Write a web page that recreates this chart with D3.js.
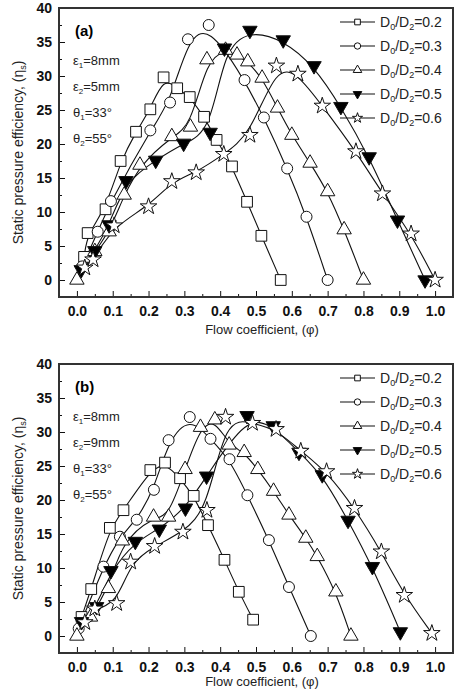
<!DOCTYPE html>
<html lang="en">
  <head>
    <meta charset="UTF-8" />
    <title>Static pressure efficiency</title>
    <script src="https://d3js.org/d3.v7.min.js"></script>
    <style>
      body { margin: 0; background: #fff; }
      svg { display: block; font-family: "Liberation Sans", Arial, sans-serif; }
      .tick text { font-weight: bold; font-size: 14px; fill: #111; }
      .tick line { stroke: #111; }
    </style>
  </head>
  <body>
    <svg id="canvas"></svg>
  </body>
  <script>
    // tick values
    let xTicks = [0.0, 0.1, 0.2, 0.3, 0.4, 0.5, 0.6, 0.7, 0.8, 0.9, 1.0];
    let xMinor = [-0.05, 0.05, 0.15, 0.25, 0.35, 0.45, 0.55, 0.65, 0.75, 0.85, 0.95, 1.05];
    let yTicks = [0, 5, 10, 15, 20, 25, 30, 35, 40];
    let yMinor = [-2.5, 2.5, 7.5, 12.5, 17.5, 22.5, 27.5, 32.5, 37.5];

    let ratios = ["0.2", "0.3", "0.4", "0.5", "0.6"];

    // panel (a): e2 = 5mm
    let a02 = [[0.02,3.4],[0.03,6.9],[0.08,10.4],[0.122,17.5],[0.165,21.8],[0.205,25.1],[0.242,29.8],[0.28,28.2],[0.315,26.9],[0.355,24.0],[0.39,20.6],[0.433,16.7],[0.475,11.5],[0.515,6.5],[0.569,0]];
    let a03 = [[0.015,2.0],[0.058,7.1],[0.095,11.6],[0.205,22.0],[0.26,26.1],[0.31,35.4],[0.368,37.5],[0.468,29.4],[0.522,23.9],[0.587,16.4],[0.641,9.3],[0.70,0]];
    let a04 = [[0,0],[0.05,4.2],[0.09,7.1],[0.132,12.5],[0.176,16.9],[0.265,21.1],[0.317,22.5],[0.363,32.4],[0.415,33.8],[0.447,33.1],[0.477,32.1],[0.517,29.7],[0.56,25.3],[0.60,21.3],[0.651,17.2],[0.70,13.0],[0.746,7.4],[0.80,0]];
    let a05 = [[0.012,1.5],[0.05,4.3],[0.09,8.1],[0.137,14.6],[0.22,17.6],[0.298,20.1],[0.372,21.7],[0.412,34.1],[0.483,36.7],[0.576,35.3],[0.662,31.5],[0.737,25.5],[0.816,18.1],[0.895,8.8],[0.972,0]];
    let a06 = [[0.022,1.8],[0.045,3.0],[0.104,8.0],[0.2,10.8],[0.265,14.5],[0.333,15.8],[0.41,18.5],[0.483,21.3],[0.557,31.5],[0.617,30.3],[0.685,25.6],[0.779,18.9],[0.853,12.7],[0.933,6.8],[1.0,0]];

    // panel (b): e2 = 9mm
    let b02 = [[0.013,2.8],[0.04,6.9],[0.092,15.9],[0.13,18.5],[0.205,24.4],[0.246,25.5],[0.288,23.2],[0.326,20.6],[0.366,16.3],[0.412,11.2],[0.452,6.5],[0.492,2.4]];
    let b03 = [[0.005,1.1],[0.074,10.2],[0.12,14.6],[0.167,17.1],[0.215,21.5],[0.256,28.8],[0.315,32.2],[0.373,29.0],[0.426,26.0],[0.476,20.7],[0.536,14.1],[0.592,7.2],[0.653,0]];
    let b04 = [[0,0],[0.038,2.8],[0.088,7.0],[0.127,14.0],[0.214,17.5],[0.256,17.5],[0.302,24.5],[0.345,30.7],[0.385,31.8],[0.425,28.1],[0.467,27.0],[0.505,24.5],[0.549,21.3],[0.592,17.8],[0.639,14.4],[0.671,11.7],[0.723,6.5],[0.765,0]];
    let b05 = [[0.013,2.1],[0.055,4.3],[0.095,9.6],[0.163,13.9],[0.23,15.7],[0.303,18.8],[0.362,23.5],[0.475,32.4],[0.548,30.9],[0.62,27.0],[0.685,23.7],[0.757,17.0],[0.825,10.2],[0.903,0.6]];
    let b06 = [[0.022,2.0],[0.05,4.0],[0.111,4.8],[0.15,10.9],[0.217,13.2],[0.296,15.3],[0.363,18.5],[0.415,32.2],[0.49,31.3],[0.556,30.4],[0.625,27.2],[0.697,24.2],[0.775,18.8],[0.85,12.4],[0.914,6.0],[0.991,0.4]];

    let width = 456;
    let height = 690;
    let left = 59;
    let right = 453;

    let panels = [
      { tag: "(a)", e2: "5", top: 8, bottom: 297, titleY: 334, series: [a02, a03, a04, a05, a06] },
      { tag: "(b)", e2: "9", top: 364, bottom: 653, titleY: 686, series: [b02, b03, b04, b05, b06] },
    ];

    let symbols = [
      { type: d3.symbolSquare, size: 115, fill: "#fff", rot: 0 },
      { type: d3.symbolCircle, size: 95, fill: "#fff", rot: 0 },
      { type: d3.symbolTriangle, size: 90, fill: "#fff", rot: 0 },
      { type: d3.symbolTriangle, size: 90, fill: "#000", rot: 180 },
      { type: d3.symbolStar, size: 85, fill: "#fff", rot: 0 },
    ];

    let svg = d3.select("svg").attr("width", width).attr("height", height);

    let xScale = d3.scaleLinear().domain([-0.05, 1.05]).range([left, right]);

    let subText = (sel, parts, subSize) => {
      // parts: [[text, isSub], ...]
      parts.forEach((p, i) => {
        let prev = i > 0 && parts[i - 1][1];
        let t = sel.append("tspan").text(p[0]);
        if (p[1]) t.attr("dy", 3).attr("font-size", subSize);
        else if (prev) t.attr("dy", -3);
      });
    };

    panels.forEach((p) => {
      let yScale = d3.scaleLinear().domain([-2.5, 40]).range([p.bottom, p.top]);
      let g = svg.append("g");

      // minor ticks
      g.append("g")
        .attr("transform", "translate(0," + p.bottom + ")")
        .call(d3.axisBottom(xScale).tickValues(xMinor).tickSize(-3).tickFormat(""))
        .call((a) => a.select(".domain").remove());
      g.append("g")
        .attr("transform", "translate(" + left + ",0)")
        .call(d3.axisLeft(yScale).tickValues(yMinor).tickSize(-3).tickFormat(""))
        .call((a) => a.select(".domain").remove());

      // major ticks
      g.append("g")
        .attr("transform", "translate(0," + p.bottom + ")")
        .call(d3.axisBottom(xScale).tickValues(xTicks).tickSize(-6).tickPadding(9).tickFormat(d3.format(".1f")))
        .call((a) => a.select(".domain").remove());
      g.append("g")
        .attr("transform", "translate(" + left + ",0)")
        .call(d3.axisLeft(yScale).tickValues(yTicks).tickSize(-6).tickPadding(7))
        .call((a) => a.select(".domain").remove());

      // curves and markers
      let line = d3.line()
        .x((d) => xScale(d[0]))
        .y((d) => yScale(d[1]))
        .curve(d3.curveBasis);

      p.series.forEach((s) => {
        g.append("path")
          .attr("d", line(s))
          .attr("fill", "none")
          .attr("stroke", "#111")
          .attr("stroke-width", 1.1);
      });
      p.series.forEach((s, i) => {
        let sym = symbols[i];
        g.selectAll(".m" + i)
          .data(s)
          .enter()
          .append("path")
          .attr("d", d3.symbol().type(sym.type).size(sym.size))
          .attr("transform", (d) => "translate(" + xScale(d[0]) + "," + yScale(d[1]) + ") rotate(" + sym.rot + ")")
          .attr("fill", sym.fill)
          .attr("stroke", "#111")
          .attr("stroke-width", 1);
      });

      // frame
      g.append("rect")
        .attr("x", left)
        .attr("y", p.top)
        .attr("width", right - left)
        .attr("height", p.bottom - p.top)
        .attr("fill", "none")
        .attr("stroke", "#333")
        .attr("stroke-width", 2);

      // panel tag and conditions
      g.append("text")
        .attr("x", 75)
        .attr("y", p.top + 28)
        .attr("font-size", 15)
        .attr("font-weight", "bold")
        .text(p.tag);

      let conds = [
        [["\u03b5", 0], ["1", 1], ["=8mm", 0]],
        [["\u03b5", 0], ["2", 1], ["=" + p.e2 + "mm", 0]],
        [["\u03b8", 0], ["1", 1], ["=33\u00b0", 0]],
        [["\u03b8", 0], ["2", 1], ["=55\u00b0", 0]],
      ];
      conds.forEach((c, i) => {
        let t = g.append("text")
          .attr("x", 73)
          .attr("y", p.top + 57 + i * 26)
          .attr("font-size", 13)
          .attr("fill", "#222");
        subText(t, c, 8);
      });

      // legend
      ratios.forEach((r, i) => {
        let ly = p.top + 14 + i * 24;
        g.append("line")
          .attr("x1", 340)
          .attr("x2", 375)
          .attr("y1", ly)
          .attr("y2", ly)
          .attr("stroke", "#111")
          .attr("stroke-width", 1.1);
        let sym = symbols[i];
        g.append("path")
          .attr("d", d3.symbol().type(sym.type).size(32))
          .attr("transform", "translate(357.5," + ly + ") rotate(" + sym.rot + ")")
          .attr("fill", sym.fill)
          .attr("stroke", "#111")
          .attr("stroke-width", 1);
        let t = g.append("text")
          .attr("x", 380)
          .attr("y", ly + 5)
          .attr("font-size", 14)
          .attr("fill", "#222");
        subText(t, [["D", 0], ["0", 1], ["/D", 0], ["2", 1], ["=" + r, 0]], 9);
      });

      // axis titles
      g.append("text")
        .attr("x", 262)
        .attr("y", p.titleY)
        .attr("text-anchor", "middle")
        .attr("font-size", 13)
        .attr("fill", "#222")
        .text("Flow coefficient, (\u03c6)");

      let yt = g.append("text")
        .attr("transform", "translate(23," + (p.top + p.bottom) / 2 + ") rotate(-90)")
        .attr("text-anchor", "middle")
        .attr("font-size", 14)
        .attr("fill", "#222");
      subText(yt, [["Static pressure efficiency, (\u03b7", 0], ["s", 1], [")", 0]], 9);
    });
  </script>
</html>
